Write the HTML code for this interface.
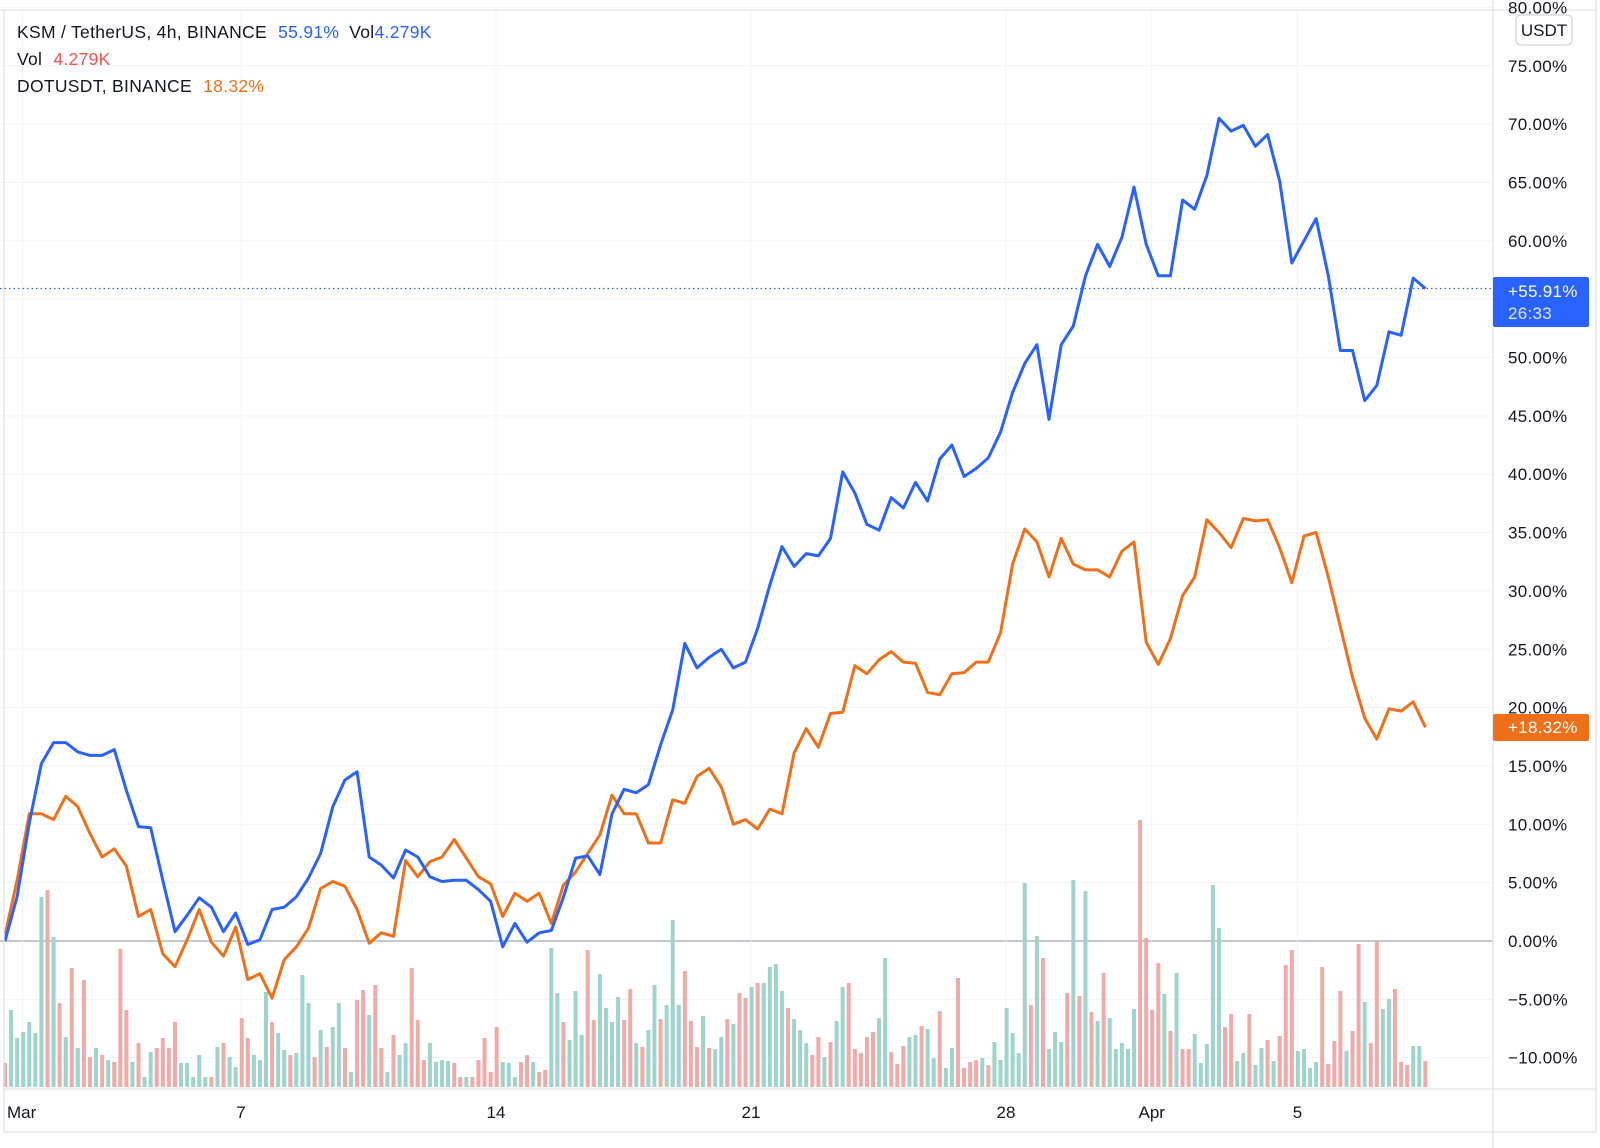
<!DOCTYPE html>
<html><head><meta charset="utf-8"><style>
html,body{margin:0;padding:0;background:#fff;}
svg{display:block;font-family:"Liberation Sans",sans-serif;}
</style></head><body>
<svg id="chart" width="1600" height="1148" viewBox="0 0 1600 1148" xmlns="http://www.w3.org/2000/svg">
<g id="grid"></g>
<g id="vol"></g>
<g id="lines"></g>
<g id="axes"></g>
<g font-size="17.5" fill="#131722" letter-spacing="0.3">
  <text x="17" y="38">KSM / TetherUS, 4h, BINANCE <tspan fill="#2962ff" dx="6">55.91%</tspan><tspan dx="10" fill="#131722">Vol</tspan><tspan fill="#2962ff">4.279K</tspan></text>
  <text x="17" y="65">Vol <tspan fill="#ef5350" dx="6">4.279K</tspan></text>
  <text x="17" y="92">DOTUSDT, BINANCE <tspan fill="#f0701a" dx="6">18.32%</tspan></text>
</g>
</svg>
<script>
const ksm = [0,3.8,10.1,15.2,17,17,16.2,15.9,15.9,16.4,12.9,9.8,9.7,5.2,0.8,2.2,3.7,2.9,0.8,2.4,-0.3,0.1,2.7,2.9,3.8,5.4,7.5,11.5,13.8,14.5,7.2,6.5,5.4,7.8,7.2,5.5,5.1,5.2,5.2,4.4,3.4,-0.5,1.5,-0.1,0.7,0.9,
3.75,7.1,7.3,5.7,10.9,13.0,12.7,13.4,16.8,19.8,25.5,23.4,24.3,25.0,23.4,23.9,26.8,30.5,33.8,32.1,33.2,33.0,34.5,40.2,38.4,35.7,35.2,38.0,37.1,39.3,37.7,41.3,42.5,39.8,40.5,41.4,43.6,
47.0,49.5,51.1,44.7,51.1,52.7,57.0,59.7,57.8,60.3,64.6,59.7,57.0,57.0,63.5,62.7,65.6,70.5,69.4,69.9,68.1,69.1,65.1,58.1,60.0,61.9,57.0,50.6,50.6,46.3,47.6,52.2,51.9,56.8,55.91];
const dot = [0.5,5.2,10.9,10.9,10.4,12.4,11.5,9.2,7.2,7.9,6.4,2.1,2.7,-1.1,-2.2,0.1,2.7,-0.1,-1.3,1.2,-3.3,-2.8,-4.9,-1.6,-0.5,1.1,4.5,5.1,4.7,2.7,-0.2,0.7,0.4,6.9,5.5,6.8,7.2,8.7,7.1,5.5,4.9,2.1,4.1,3.4,4.1,1.5,
4.8,5.9,7.5,9.1,12.5,10.9,10.9,8.4,8.4,12.1,11.8,14.1,14.8,13.2,10.0,10.4,9.6,11.3,10.9,16.1,18.2,16.6,19.5,19.6,23.6,22.9,24.1,24.8,23.9,23.8,21.3,21.1,22.9,23.0,23.9,23.9,26.4,
32.3,35.3,34.2,31.2,34.5,32.3,31.8,31.8,31.2,33.4,34.2,25.6,23.7,25.9,29.6,31.2,36.1,35.0,33.7,36.2,36.0,36.1,33.7,30.7,34.7,35.0,31.2,26.9,22.6,19.1,17.3,19.9,19.7,20.5,18.32];
const volumes = [24,77,49,55,65,54,190,197,150,84,50,119,39,107,30,39,32,27,25,138,77,25,44,10,35,39,49,39,65,24,24,10,32,10,10,40,44,30,20,69,49,32,27,95,65,54,37,32,34,112,84,30,57,40,60,84,39,15,87,97,72,102,39,15,52,32,44,119,67,27,44,25,27,26,24,10,10,10,27,49,15,60,25,24,10,25,32,25,15,17,139,94,
65,47,96,52,137,67,113,79,65,90,67,98,44,40,57,102,68,82,167,82,116,66,40,71,39,38,50,68,63,94,89,100,104,104,120,123,96,79,68,57,44,32,50,30,45,66,100,104,38,34,50,55,69,129,35,23,41,50,52,61,58,29,76,19,39,109,19,25,27,29,22,45,27,79,54,34,
204,82,151,129,38,55,45,94,207,91,196,75,66,114,69,38,44,38,78,267,149,77,124,93,56,114,38,38,53,24,43,202,159,60,73,26,34,73,22,39,47,26,51,122,137,36,38,19,25,120,23,46,96,36,56,143,85,44,146,78,88,98,25,22,41,41,26];
const volUp = [0,1,1,1,1,1,1,0,1,0,1,0,1,0,0,1,0,1,0,0,0,1,0,1,1,0,0,0,0,1,1,1,1,1,0,1,0,1,1,0,0,1,1,1,0,1,1,0,1,1,1,0,1,0,1,1,0,1,0,0,1,0,0,1,0,1,1,0,0,0,1,1,1,1,0,0,1,0,0,0,0,0,1,1,1,0,0,1,0,0,1,1,
0,1,1,1,0,0,1,1,1,1,0,0,1,0,1,1,0,1,1,1,0,0,0,1,0,1,1,0,1,0,0,1,0,1,1,1,1,0,1,1,1,0,0,1,0,1,1,0,0,0,0,0,1,1,0,0,0,1,1,0,1,1,0,1,1,0,0,0,0,1,0,1,1,1,1,1,
1,0,1,0,1,1,1,0,1,0,1,0,1,0,1,1,1,1,1,0,0,0,0,1,0,1,0,0,1,1,1,1,1,0,0,1,1,0,1,1,0,1,0,0,0,1,1,1,1,0,0,0,0,1,0,0,1,0,0,1,1,0,0,0,1,1,0];
const yTicks = [80,75,70,65,60,55,50,45,40,35,30,25,20,15,10,5,0,-5,-10];
const xTickDays = [0,6,13,20,27,31,35];
const xTickLabels = ["Mar","7","14","21","28","Apr","5"];

const NS="http://www.w3.org/2000/svg";
const PLOT_R=1493, ZERO_Y=941, PX_PER_PCT=11.67, VOL_BASE=1087;
const yScale=v=>ZERO_Y-v*PX_PER_PCT;
const xBar=i=>5+6.07*i;
const xDay=d=>22.4+36.43*d;
const yVol=v=>VOL_BASE-v;
function mk(tag,attrs,parent){const e=document.createElementNS(NS,tag);for(const k in attrs)e.setAttribute(k,attrs[k]);parent.appendChild(e);return e;}

const grid=document.getElementById('grid');
yTicks.forEach(t=>{
  const l=mk('line',{x1:0,x2:PLOT_R,y1:yScale(t),y2:yScale(t),stroke:t===0?'#b2b5be':'#f0f3fa','stroke-width':t===0?1.5:1},grid);
  
  
});
xTickDays.forEach(d=>{
  const l=mk('line',{x1:xDay(d),x2:xDay(d),y1:10,y2:1089,stroke:'#f0f3fa','stroke-width':1},grid);
  
  
});

const vg=document.getElementById('vol');
volumes.forEach((v,i)=>{
  const r=mk('rect',{x:xBar(i)-2,y:yVol(v),width:4,height:v,fill:volUp[i]?'#9fd4cc':'#f0aaa8'},vg);
  
  
});

const lg=document.getElementById('lines');
const dl=mk('line',{x1:0,x2:PLOT_R,y1:yScale(ksm[ksm.length-1]),y2:yScale(ksm[ksm.length-1]),stroke:'#2962ff','stroke-width':1.2,'stroke-dasharray':'1.5 3'},lg);


function line(arr,color,name){
  const p=mk('polyline',{points:arr.map((v,k)=>xBar(2*k).toFixed(1)+','+yScale(v).toFixed(1)).join(' '),fill:'none',stroke:color,'stroke-width':3,'stroke-linejoin':'round'},lg);
  
  
}
line(dot,'#f0701a','dot-line');
line(ksm,'#2962ff','ksm-line');

const ax=document.getElementById('axes');
const frame=[[4,10,4,1132],[0,10,1596,10],[PLOT_R,0,PLOT_R,1148],[1596,0,1596,1132],[4,1089,1596,1089],[4,1132,1596,1132]];
frame.forEach(f=>{
  const l=mk('line',{x1:f[0],y1:f[1],x2:f[2],y2:f[3],stroke:'#e0e3eb','stroke-width':1.3},ax);
  
  
});
yTicks.forEach(t=>{
  const tx=mk('text',{x:1508,y:yScale(t)+6,'font-size':17,fill:'#131722','letter-spacing':0.3},ax);
  tx.textContent=(t<0?'\u2212'+Math.abs(t).toFixed(2):t.toFixed(2))+'%';
  
  
});
xTickDays.forEach((d,i)=>{
  const first=i===0;
  const tx=mk('text',{x:first?7:xDay(d),y:1118,'font-size':17,fill:'#131722','text-anchor':first?'start':'middle'},ax);
  tx.textContent=xTickLabels[i];
  
  
});
const ub=mk('rect',{x:1516,y:15,width:56,height:30,rx:5,fill:'#fff',stroke:'#d1d4dc','stroke-width':1.3},ax);


const ut=mk('text',{x:1544,y:36,'font-size':17,fill:'#131722','text-anchor':'middle'},ax);
ut.textContent='USDT';


const bl=mk('rect',{x:PLOT_R,y:277,width:96,height:50,rx:2,fill:'#2962ff'},ax);


const bt1=mk('text',{x:1508,y:297,'font-size':17,fill:'#fff','letter-spacing':0.3},ax);
bt1.textContent='+'+ksm[ksm.length-1].toFixed(2)+'%';


const bt2=mk('text',{x:1508,y:319,'font-size':17,fill:'#dfe6ff','letter-spacing':0.3},ax);
bt2.textContent='26:33';


const ol=mk('rect',{x:PLOT_R,y:714,width:96,height:27,rx:2,fill:'#f0701a'},ax);


const ot=mk('text',{x:1508,y:733,'font-size':17,fill:'#fff','letter-spacing':0.3},ax);
ot.textContent='+'+dot[dot.length-1].toFixed(2)+'%';


</script>
</body></html>
